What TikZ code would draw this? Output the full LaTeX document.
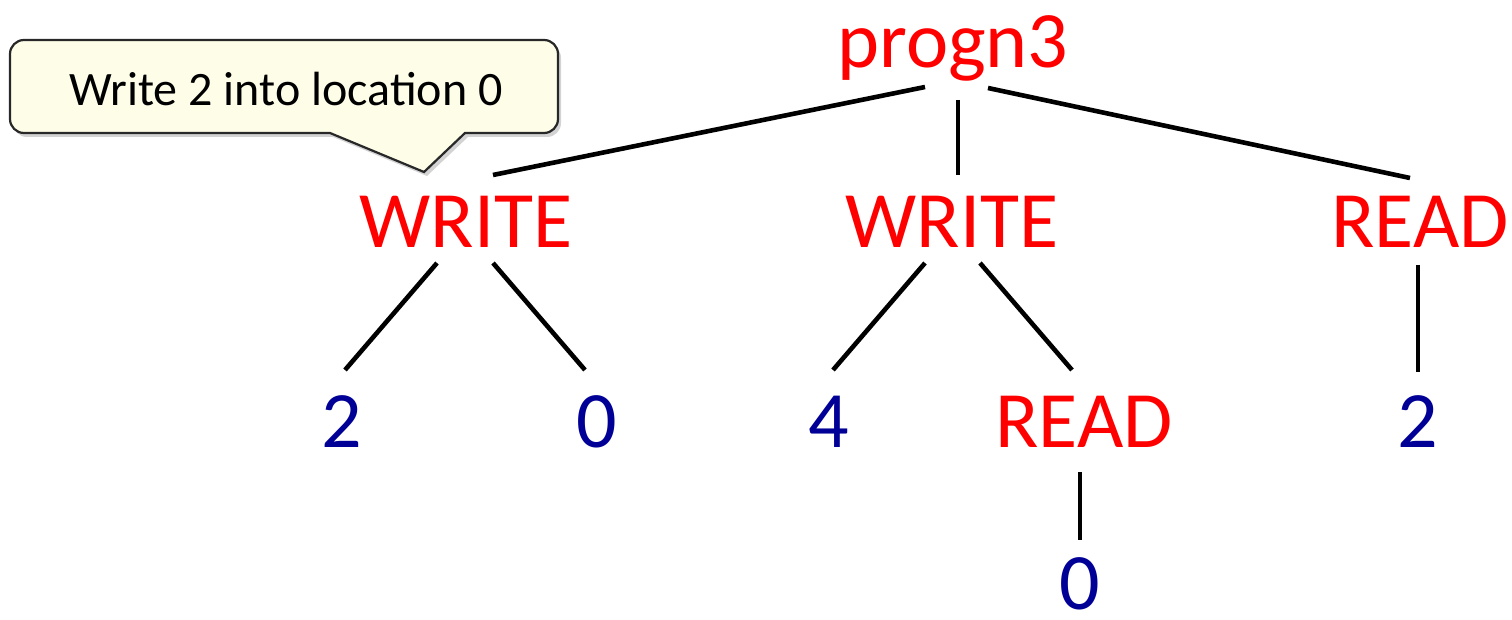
\documentclass[tikz,border=0pt]{standalone}
\usepackage{fontspec}
\setmainfont{Carlito}
\usetikzlibrary{shadows}
\definecolor{opred}{RGB}{255,0,0}
\definecolor{argblue}{RGB}{0,0,150}
\definecolor{notefill}{RGB}{254,253,232}
\definecolor{noteedge}{RGB}{40,40,40}
\begin{document}
\begin{tikzpicture}[x=0.5pt,y=-0.5pt,
  op/.style={text=opred,font=\fontsize{40}{48}\selectfont,anchor=base,inner sep=0pt},
  arg/.style={text=argblue,font=\fontsize{40}{48}\selectfont,anchor=base,inner sep=0pt},
  edge/.style={line width=2.3pt,black},
  note/.style={fill=notefill,draw=noteedge,line width=1.1pt,
    drop shadow={opacity=0.35,shadow xshift=1.5pt,shadow yshift=-2pt}}]
\useasboundingbox (0,0) rectangle (1512,620);

% callout box with its pointer (rounded only at the box corners)
\path[note] (330,133) -- (424,172) -- (465,133)
  [rounded corners=7pt] -- (558,133) -- (558,40) -- (10,40) -- (10,133)
  [sharp corners] -- cycle;
\node[anchor=base,inner sep=0pt,font=\fontsize{24}{29}\selectfont] (tip) at (286,106)
  {Write 2 into location 0};

% tree nodes
\node[op] (root) at (953,68) {progn3};
\node[op] (w1) at (466,248) {WRITE};
\node[op] (w2) at (952,248) {WRITE};
\node[op] (r1) at (1420,248) {READ};
\node[arg] (a2) at (342,448) {2};
\node[arg] (a0) at (597,448) {0};
\node[arg] (a4) at (829,448) {4};
\node[op] (r2) at (1084,448) {READ};
\node[arg] (b2) at (1418,448) {2};
\node[arg] (b0) at (1080,610) {0};

% edges
\draw[edge] ([shift={(-28,19)}]root.base) -- ([shift={(27,-73)}]w1.base);
\draw[edge] ([shift={(5,32)}]root.base) -- ([shift={(6,-73)}]w2.base);
\draw[edge] ([shift={(35,20)}]root.base) -- ([shift={(-10,-70)}]r1.base);
\draw[edge] ([shift={(-29,15)}]w1.base) -- ([shift={(3,-78)}]a2.base);
\draw[edge] ([shift={(27,15)}]w1.base) -- ([shift={(-12,-78)}]a0.base);
\draw[edge] ([shift={(-27,15)}]w2.base) -- ([shift={(4,-78)}]a4.base);
\draw[edge] ([shift={(28,15)}]w2.base) -- ([shift={(-12,-78)}]r2.base);
\draw[edge] ([shift={(-2,17)}]r1.base) -- ([shift={(0,-76)}]b2.base);
\draw[edge] ([shift={(-4,24)}]r2.base) -- ([shift={(0,-70)}]b0.base);
\end{tikzpicture}
\end{document}
